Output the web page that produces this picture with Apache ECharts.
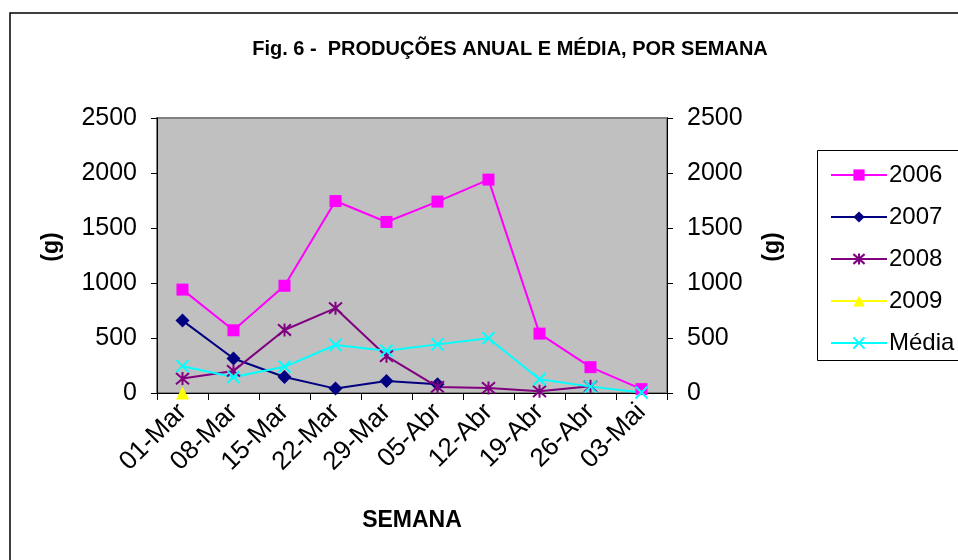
<!DOCTYPE html>
<html>
<head>
<meta charset="utf-8">
<script src="https://cdn.jsdelivr.net/npm/echarts@6/dist/echarts.min.js"></script>
<style>
html, body { margin: 0; padding: 0; background: #fff; }
#chart { width: 958px; height: 560px; }
</style>
</head>
<body>
<div id="chart"></div>
<script>
// semanas
var semanas = ['01-Mar', '08-Mar', '15-Mar', '22-Mar', '29-Mar', '05-Abr', '12-Abr', '19-Abr', '26-Abr', '03-Mai'];
// produções por ano (g)
var prod2006 = [940, 570, 975, 1745, 1555, 1740, 1940, 540, 235, 35];
var prod2007 = [658, 314, 146, 40, 110, 80, '-', '-', '-', '-'];
var prod2008 = [131, 201, 573, 771, 335, 55, 46, 15, 61, '-'];
var prod2009 = [0, '-', '-', '-', '-', '-', '-', '-', '-', '-'];
var media = [244, 146, 238, 436, 384, 442, 497, 125, 58, 5];
var yTicks = [0, 2500, 500];

var fonte = 'Liberation Sans, Arial, sans-serif';
var asterisco = 'path://M0,-1L0,1M-0.87,-0.87L0.87,0.87M-0.87,0.87L0.87,-0.87';
var cruz = 'path://M-1,-1L1,1M-1,1L1,-1';

function serie(nome, dados, cor, simbolo, tam, stroke) {
	return {
		name: nome,
		type: 'line',
		data: dados,
		symbol: simbolo,
		symbolSize: tam,
		showAllSymbol: true,
		connectNulls: false,
		animation: false,
		lineStyle: { color: cor, width: 2 },
		itemStyle: stroke ? { color: 'none', borderColor: cor, borderWidth: 2 } : { color: cor, borderWidth: 0 },
		emphasis: { disabled: true }
	};
}

var chart = echarts.init(document.getElementById('chart'));
var eixoY = function(pos) {
	return {
		type: 'value',
		position: pos,
		min: yTicks[0],
		max: yTicks[1],
		interval: yTicks[2],
		axisLine: { show: true, lineStyle: { color: '#000', width: 1 } },
		axisTick: { show: true, length: 6, lineStyle: { color: '#000' } },
		axisLabel: {
			fontFamily: fonte, fontSize: 25, color: '#000', margin: 20,
			formatter: function(v) { return String(v); }
		},
		splitLine: { show: false }
	};
};

var tituloEixo = { fontFamily: fonte, fontSize: 23, fontWeight: 'bold', fill: '#000', textAlign: 'center', textVerticalAlign: 'middle' };

chart.setOption({
	backgroundColor: '#fff',
	animation: false,
	title: {
		text: 'Fig. 6 -  PRODUÇÕES ANUAL E MÉDIA, POR SEMANA',
		left: 505,
		top: 34,
		textAlign: 'center',
		textStyle: { fontFamily: fonte, fontSize: 20, fontWeight: 'bold', color: '#000' }
	},
	graphic: [
		{ type: 'rect', shape: { x: 10, y: 13, width: 960, height: 560 }, style: { fill: 'none', stroke: '#000', lineWidth: 1.5 }, z: -1 },
		{ type: 'rect', shape: { x: 817.5, y: 150.5, width: 200, height: 210 }, style: { fill: '#fff', stroke: '#000', lineWidth: 1 }, z: 0 },
		{ type: 'text', x: 52, y: 247, rotation: Math.PI / 2, style: echarts.util.extend({ text: '(g)' }, tituloEixo) },
		{ type: 'text', x: 773, y: 247, rotation: Math.PI / 2, style: echarts.util.extend({ text: '(g)' }, tituloEixo) },
		{ type: 'text', x: 412, y: 521, style: echarts.util.extend({ text: 'SEMANA' }, tituloEixo) }
	],
	legend: {
		orient: 'vertical',
		left: 825,
		top: 158,
		itemWidth: 56,
		itemHeight: 14,
		itemGap: 18,
		textStyle: { fontFamily: fonte, fontSize: 24, color: '#000', padding: [0, 0, 0, -3] },
		data: ['2006', '2007', '2008', '2009', 'Média']
	},
	grid: {
		left: 157,
		right: 291,
		top: 118,
		bottom: 167,
		show: true,
		backgroundColor: '#C0C0C0',
		borderColor: '#808080',
		borderWidth: 2,
		containLabel: false
	},
	xAxis: {
		type: 'category',
		data: semanas,
		boundaryGap: true,
		axisLine: { show: true, lineStyle: { color: '#000', width: 1 } },
		axisTick: { show: true, length: 7, alignWithLabel: false, lineStyle: { color: '#000' } },
		axisLabel: { rotate: 45, interval: 0, fontFamily: fonte, fontSize: 26, color: '#000', margin: 15, hideOverlap: false },
		splitLine: { show: false }
	},
	yAxis: [eixoY('left'), eixoY('right')],
	series: [
		serie('2006', prod2006, '#FF00FF', 'rect', 12, false),
		serie('2007', prod2007, '#000080', 'diamond', 14, false),
		serie('2008', prod2008, '#800080', asterisco, 13, true),
		serie('2009', prod2009, '#FFFF00', 'triangle', 13, false),
		serie('Média', media, '#00FFFF', cruz, 12, true)
	]
});
</script>
</body>
</html>
